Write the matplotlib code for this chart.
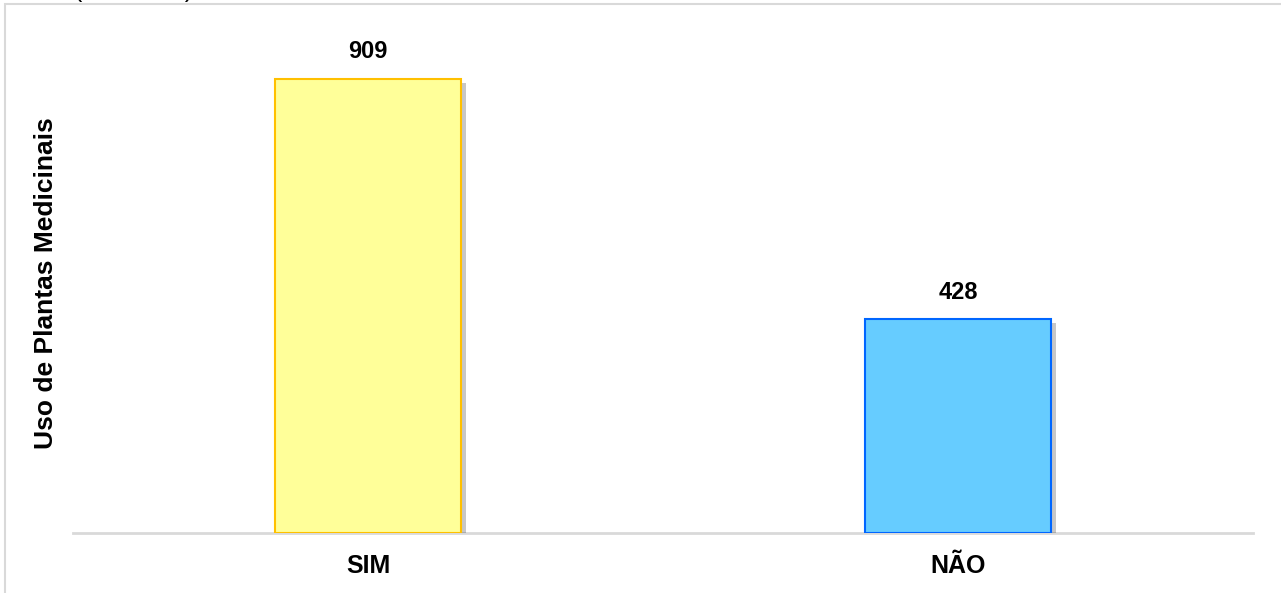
import matplotlib
matplotlib.use("Agg")
import matplotlib.pyplot as plt
from matplotlib.patches import Rectangle
import matplotlib.patheffects as pe

categories = ["SIM", "NÃO"]
values = [909, 428]
fill_colors = ["#FFFF99", "#66CCFF"]
edge_colors = ["#FFC000", "#0066FF"]
ylabel = "Uso de Plantas Medicinais"
title = "(N = 1337)"

plt.rcParams['font.family'] = ['Liberation Sans', 'DejaVu Sans']

W, H = 1281, 593
fig = plt.figure(figsize=(W / 100, H / 100), dpi=100)

# outer chart border (partially cut)
fig.patches.append(Rectangle((4.5 / W, -0.1), 1.2, 1 - 4.5 / H + 0.1, transform=fig.transFigure,
                             fill=False, edgecolor="#D9D9D9", linewidth=1.5, zorder=0))
# cut-off title at top (only the tails of the parentheses remain visible)
fig.text(134 / W, 1 + 3.5 / H, title, ha="center", va="baseline", fontsize=18,
         color="#000000")

left, right, bottom, top = 73, 1253, 533, 20
ax = fig.add_axes([left / W, 1 - bottom / H, (right - left) / W, (bottom - top) / H])
x = list(range(len(categories)))
bars = ax.bar(x, values, width=0.314, color=fill_colors, edgecolor=edge_colors, linewidth=1.5,
              zorder=3)
for b in bars:
    b.set_path_effects([pe.SimplePatchShadow(offset=(4, -3), shadow_rgbFace="#000000", alpha=0.22),
                        pe.Normal()])
for xi, v in zip(x, values):
    ax.annotate(str(v), (xi, v), xytext=(0, 11), textcoords="offset points", ha="center",
                va="bottom", fontsize=17, fontweight="bold")

ax.set_xlim(-0.5, 1.5)
ax.set_ylim(0, 1026)
ax.set_xticks(x)
ax.set_xticklabels(categories, fontsize=18, fontweight="bold")
ax.tick_params(axis="x", length=0, pad=15)
ax.set_yticks([])
for s in ["top", "right", "left"]:
    ax.spines[s].set_visible(False)
ax.spines["bottom"].set_color("#D9D9D9")
ax.spines["bottom"].set_linewidth(2)
ax.spines["bottom"].set_zorder(2)
ax.set_ylabel(ylabel, fontsize=19, fontweight="bold")
ax.yaxis.set_label_coords(-(73 - 58) / (right - left), 0.5 + (533 - 283.5 - (bottom - top) / 2) / (bottom - top))

fig.savefig("out.png", dpi=100)
